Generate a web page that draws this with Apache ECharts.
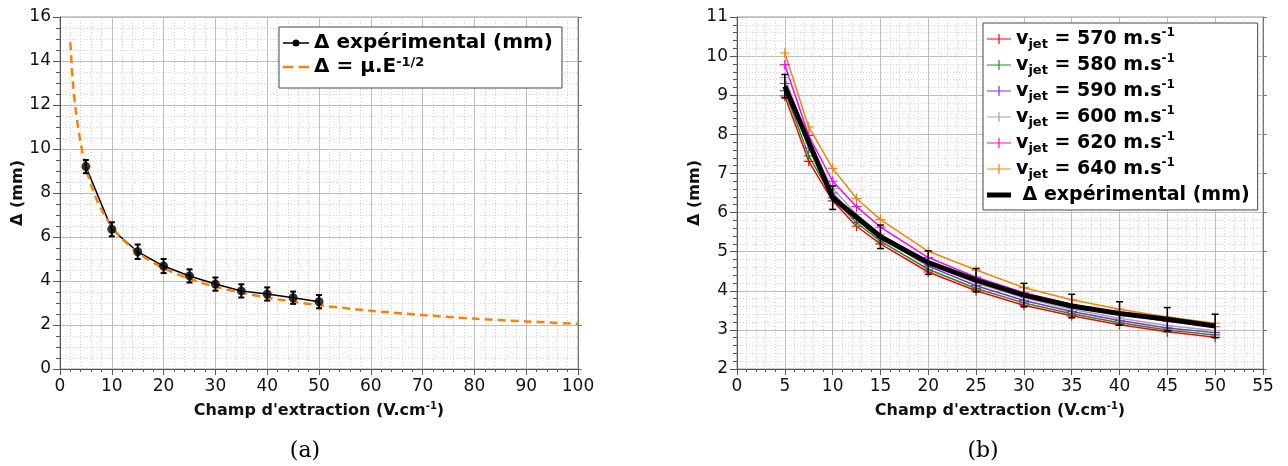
<!DOCTYPE html>
<html><head><meta charset="utf-8">
<script src="https://cdn.jsdelivr.net/npm/echarts@6/dist/echarts.min.js"></script>
<style>html,body{margin:0;padding:0;background:#fff}#c{width:1288px;height:466px}</style>
</head><body><div id="c"></div>
<script>
// ---- Panel (a) data ----
const fieldA = [5, 10, 15, 20, 25, 30, 35, 40, 45, 50];
const deltaExpA = [9.2, 6.35, 5.33, 4.68, 4.23, 3.86, 3.55, 3.41, 3.24, 3.06];
const errA = [0.3, 0.32, 0.33, 0.32, 0.3, 0.3, 0.3, 0.3, 0.28, 0.3];
const fitField = [2, 2.5, 3, 4, 5, 6, 7, 8, 10, 12, 15, 20, 25, 30, 35, 40, 50, 60, 70, 80, 90, 100];
const fitDelta = [14.85, 13.0, 11.85, 10.25, 9.17, 8.37, 7.75, 7.25, 6.48, 5.92, 5.29, 4.58, 4.1, 3.74, 3.47, 3.24, 2.9, 2.65, 2.45, 2.29, 2.16, 2.05];
const xTicksA = [0, 100, 10];
const yTicksA = [0, 16, 2];

// ---- Panel (b) data ----
const fieldB = [5, 7.5, 10, 12.5, 15, 20, 25, 30, 35, 40, 45, 50];
const v570 = [8.98, 7.31, 6.30, 5.65, 5.20, 4.48, 4.00, 3.63, 3.36, 3.13, 2.95, 2.81];
const v580 = [9.12, 7.45, 6.38, 5.74, 5.27, 4.55, 4.06, 3.69, 3.41, 3.18, 3.00, 2.87];
const v590 = [9.30, 7.65, 6.50, 5.85, 5.36, 4.63, 4.13, 3.75, 3.47, 3.24, 3.05, 2.93];
const v600 = [9.45, 7.78, 6.62, 5.95, 5.45, 4.70, 4.20, 3.82, 3.53, 3.30, 3.11, 2.98];
const v620 = [9.78, 7.97, 6.80, 6.15, 5.63, 4.85, 4.35, 3.95, 3.65, 3.41, 3.22, 3.08];
const v640 = [10.08, 8.19, 7.13, 6.36, 5.82, 5.01, 4.53, 4.08, 3.77, 3.53, 3.33, 3.17];
const speedLabels = ['570', '580', '590', '600', '620', '640'];
const deltaExpB = [9.23, 6.38, 5.38, 4.72, 4.27, 3.89, 3.61, 3.42, 3.27, 3.10];
const errB = [0.3, 0.3, 0.3, 0.3, 0.3, 0.3, 0.3, 0.3, 0.3, 0.3];
const xTicksB = [0, 55, 5];
const yTicksB = [2, 11, 1];

const FONT = 'DejaVu Sans';
const pairs = (xs, ys) => xs.map((x, i) => [x, ys[i]]);
const errData = (xs, ys, es) => xs.map((x, i) => [x, ys[i] - es[i], ys[i] + es[i]]);

function errRender(capW, lw, color) {
  return function (params, api) {
    const x = api.value(0), lo = api.value(1), hi = api.value(2);
    const a = api.coord([x, lo]), b = api.coord([x, hi]);
    const style = { stroke: color, lineWidth: lw, fill: null };
    return { type: 'group', children: [
      { type: 'line', shape: { x1: a[0], y1: a[1], x2: b[0], y2: b[1] }, style },
      { type: 'line', shape: { x1: a[0] - capW, y1: a[1], x2: a[0] + capW, y2: a[1] }, style },
      { type: 'line', shape: { x1: b[0] - capW, y1: b[1], x2: b[0] + capW, y2: b[1] }, style }
    ]};
  };
}

const nameRich = {
  b: { fontFamily: FONT, fontWeight: 'bold', fontSize: 16, color: '#111', lineHeight: 20 },
  sup: { fontFamily: FONT, fontWeight: 'bold', fontSize: 10, color: '#111', lineHeight: 12, verticalAlign: 'top' }
};

function xAx(gi, t, name) {
  return {
    type: 'value', gridIndex: gi, min: t[0], max: t[1], interval: t[2],
    name, nameLocation: 'middle', nameGap: 32,
    nameTextStyle: { fontFamily: FONT, fontWeight: 'bold', fontSize: 16, color: '#111', rich: nameRich },
    axisLine: { show: true, onZero: false, lineStyle: { color: '#555', width: 1 } },
    axisTick: { show: true, inside: false, length: 6, lineStyle: { color: '#555' } },
    minorTick: { show: true, splitNumber: 5, length: 3, lineStyle: { color: '#555' } },
    axisLabel: { fontFamily: FONT, fontSize: 17, color: '#111', margin: 9 },
    splitLine: { show: true, lineStyle: { color: '#bdbdbd', width: 1 } },
    minorSplitLine: { show: true, lineStyle: { color: '#d2d2d2', type: [1, 2], width: 1 } }
  };
}
function yAx(gi, t, minorSplit, nameGap) {
  return {
    type: 'value', gridIndex: gi, min: t[0], max: t[1], interval: t[2],
    name: 'Δ (mm)', nameLocation: 'middle', nameGap,
    nameTextStyle: { fontFamily: FONT, fontWeight: 'bold', fontSize: 16, color: '#111' },
    axisLine: { show: true, onZero: false, lineStyle: { color: '#555', width: 1 } },
    axisTick: { show: true, inside: false, length: 7, lineStyle: { color: '#555' } },
    minorTick: { show: true, splitNumber: minorSplit, length: 4, lineStyle: { color: '#555' } },
    axisLabel: { fontFamily: FONT, fontSize: 17, color: '#111', margin: 9 },
    splitLine: { show: true, lineStyle: { color: '#bdbdbd', width: 1 } },
    minorSplitLine: { show: true, lineStyle: { color: '#d2d2d2', type: [1, 2], width: 1 } }
  };
}
function yRight(gi, t) {
  return {
    type: 'value', gridIndex: gi, min: t[0], max: t[1], interval: t[2], position: 'right',
    axisLine: { show: true, onZero: false, lineStyle: { color: '#777', width: 1 } },
    axisTick: { show: true, inside: false, length: 4, lineStyle: { color: '#777' } },
    minorTick: { show: false },
    axisLabel: { show: false }, splitLine: { show: false }
  };
}

const speedColors = ['#ff0000', '#1f8f1f', '#8a2be2', '#a6a6a6', '#ff00ff', '#ff8000'];
const speedData = [v570, v580, v590, v600, v620, v640];
const plusPath = 'path://M4.4,0 H5.6 V4.4 H10 V5.6 H5.6 V10 H4.4 V5.6 H0 V4.4 H4.4 Z';

const speedSeries = speedData.map((vals, i) => ({
  name: 'v' + speedLabels[i], type: 'line', xAxisIndex: 1, yAxisIndex: 1,
  data: pairs(fieldB, vals), symbol: plusPath, symbolSize: 10,
  itemStyle: { color: speedColors[i] },
  lineStyle: { color: speedColors[i], width: 1.5 }, z: 3
}));

const labelMap = {
  expA: 'Δ expérimental (mm)',
  fitA: '{t|Δ = μ.E}{sup|-1/2}',
  expB: ' Δ expérimental (mm)'
};
speedLabels.forEach(s => { labelMap['v' + s] = '{t|v}{sub|jet}{t| = ' + s + ' m.s}{sup|-1}'; });

const iconLineDot = 'path://M0,4.3 H9.6 V5.7 H0 Z M16.4,4.3 H26 V5.7 H16.4 Z M9.5,5 A3.5,3.5 0 1,1 16.5,5 A3.5,3.5 0 1,1 9.5,5 Z';
const iconDash = 'path://M0,0 H10 V2.6 H0 Z M15,0 H25 V2.6 H15 Z';
const iconPlusLine = 'path://M0,4.4 H24 V5.6 H0 Z M11.4,0 H12.6 V10 H11.4 Z';
const iconThick = 'path://M0,0 H24 V5 H0 Z';

const option = {
  animation: false,
  backgroundColor: '#fff',
  grid: [
    { left: 60, top: 17, width: 518, height: 352, show: true, borderColor: '#999', borderWidth: 1 },
    { left: 737, top: 17, width: 526, height: 352, show: true, borderColor: '#999', borderWidth: 1 }
  ],
  xAxis: [
    xAx(0, xTicksA, "{b|Champ d'extraction (V.cm}{sup|-1}{b|)}"),
    xAx(1, xTicksB, "{b|Champ d'extraction (V.cm}{sup|-1}{b|)}")
  ],
  yAxis: [yAx(0, yTicksA, 4, 34), yAx(1, yTicksB, 5, 33), yRight(0, yTicksA), yRight(1, yTicksB)],
  legend: [
    {
      data: [
        { name: 'expA', icon: iconLineDot, itemStyle: { color: '#000', borderWidth: 0 } },
        { name: 'fitA', icon: iconDash, itemStyle: { color: '#ff8000', borderWidth: 0 } }
      ],
      left: 279, top: 27, orient: 'vertical',
      itemWidth: 26, itemHeight: 10, itemGap: 2, padding: [5, 9, 10, 4],
      borderColor: '#444', borderWidth: 1, backgroundColor: '#fff',
      formatter: n => labelMap[n],
      textStyle: {
        fontFamily: FONT, fontWeight: 'bold', fontSize: 20, color: '#000', lineHeight: 22,
        rich: {
          t: { fontFamily: FONT, fontWeight: 'bold', fontSize: 20, color: '#000', lineHeight: 22 },
          sup: { fontFamily: FONT, fontWeight: 'bold', fontSize: 13, color: '#000', lineHeight: 14, verticalAlign: 'top' }
        }
      }
    },
    {
      data: speedLabels.map((s, i) => ({ name: 'v' + s, icon: iconPlusLine, itemStyle: { color: speedColors[i], borderWidth: 0 } }))
        .concat([{ name: 'expB', icon: iconThick, itemStyle: { color: '#000', borderWidth: 0 } }]),
      left: 983, top: 23, orient: 'vertical',
      itemWidth: 24, itemHeight: 10, itemGap: 2, padding: [4, 8, 3, 4],
      borderColor: '#444', borderWidth: 1, backgroundColor: '#fff',
      formatter: n => labelMap[n],
      textStyle: {
        fontFamily: FONT, fontWeight: 'bold', fontSize: 19, color: '#000', lineHeight: 24,
        rich: {
          t: { fontFamily: FONT, fontWeight: 'bold', fontSize: 19, color: '#000', lineHeight: 24 },
          sub: { fontFamily: FONT, fontWeight: 'bold', fontSize: 13, color: '#000', lineHeight: 14, verticalAlign: 'bottom' },
          sup: { fontFamily: FONT, fontWeight: 'bold', fontSize: 12, color: '#000', lineHeight: 14, verticalAlign: 'top' }
        }
      }
    }
  ],
  graphic: [
    { type: 'text', x: 305, y: 451, style: { text: '(a)', font: '22px "DejaVu Serif"', fill: '#000', textAlign: 'center', textVerticalAlign: 'middle' } },
    { type: 'text', x: 983, y: 451, style: { text: '(b)', font: '22px "DejaVu Serif"', fill: '#000', textAlign: 'center', textVerticalAlign: 'middle' } }
  ],
  series: [
    {
      name: 'expA', type: 'line', xAxisIndex: 0, yAxisIndex: 0, data: pairs(fieldA, deltaExpA),
      symbol: 'circle', showSymbol: false, itemStyle: { color: '#000' },
      lineStyle: { color: '#000', width: 1.5 }, z: 2
    },
    {
      name: 'fitA', type: 'line', xAxisIndex: 0, yAxisIndex: 0, data: pairs(fitField, fitDelta),
      smooth: 0.3, showSymbol: false, symbol: 'none',
      itemStyle: { color: '#ff8000' },
      lineStyle: { color: '#ff8000', width: 2.5, type: [8, 5] }, z: 3
    },
    {
      type: 'scatter', xAxisIndex: 0, yAxisIndex: 0, data: pairs(fieldA, deltaExpA),
      symbol: 'circle', symbolSize: 9, itemStyle: { color: '#000' }, z: 5
    },
    {
      type: 'custom', xAxisIndex: 0, yAxisIndex: 0, data: errData(fieldA, deltaExpA, errA),
      encode: { x: 0, y: [1, 2] }, renderItem: errRender(3, 2, '#000'), z: 5
    },
    ...speedSeries,
    {
      name: 'expB', type: 'line', xAxisIndex: 1, yAxisIndex: 1, data: pairs(fieldA, deltaExpB),
      symbol: 'none', itemStyle: { color: '#000' },
      lineStyle: { color: '#000', width: 5 }, z: 4
    },
    {
      type: 'custom', xAxisIndex: 1, yAxisIndex: 1, data: errData(fieldA, deltaExpB, errB),
      encode: { x: 0, y: [1, 2] }, renderItem: errRender(3.5, 1.5, '#000'), z: 5
    }
  ]
};
const chart = echarts.init(document.getElementById('c'), null, { renderer: 'canvas' });
chart.setOption(option);
</script>
</body></html>
